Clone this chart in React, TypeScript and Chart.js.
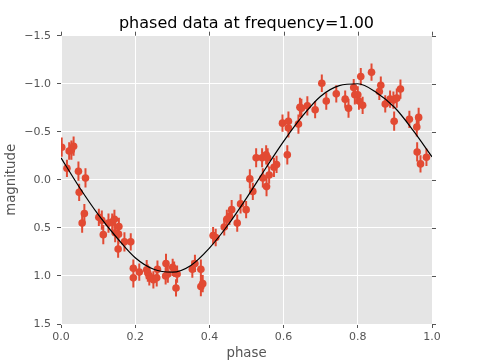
import React, { useEffect, useRef } from "react";
import { Chart, registerables } from "chart.js";

Chart.register(...registerables);

const phase = [
  0.002, 0.016, 0.022, 0.028, 0.034, 0.047, 0.049, 0.057, 0.063, 0.066,
  0.102, 0.110, 0.114, 0.128, 0.138, 0.144, 0.146, 0.156, 0.155, 0.154,
  0.171, 0.188, 0.195, 0.195, 0.211, 0.231, 0.234, 0.238, 0.249, 0.258,
  0.260, 0.283, 0.282, 0.288, 0.301, 0.305, 0.310, 0.313, 0.354, 0.361,
  0.377, 0.377, 0.382, 0.410, 0.417, 0.440, 0.447, 0.454, 0.460, 0.475,
  0.484, 0.499, 0.509, 0.517, 0.526, 0.542, 0.553, 0.557, 0.544, 0.554,
  0.561, 0.574, 0.581, 0.597, 0.610, 0.613, 0.613, 0.640, 0.644, 0.648,
  0.664, 0.685, 0.703, 0.715, 0.742, 0.766, 0.775, 0.789, 0.792, 0.800,
  0.803, 0.808, 0.813, 0.837, 0.858, 0.862, 0.874, 0.887, 0.896, 0.898,
  0.905, 0.915, 0.939, 0.959, 0.964, 0.960, 0.969, 0.985,
];

const magnitude = [
  -0.34, -0.12, -0.30, -0.31, -0.35, -0.09, 0.13, 0.45, 0.35, -0.02,
  0.39, 0.42, 0.57, 0.45, 0.44, 0.41, 0.55, 0.485, 0.565, 0.72,
  0.645, 0.645, 0.92, 1.02, 0.96, 0.935, 0.97, 1.0, 1.04, 1.02,
  0.93, 0.87, 1.0, 0.98, 0.91, 0.93, 1.125, 0.98, 0.93, 0.87,
  0.93, 1.11, 1.08, 0.58, 0.6, 0.49, 0.41, 0.38, 0.31, 0.45,
  0.25, 0.31, -0.01, 0.12, -0.23, -0.23, -0.26, -0.23, -0.02, 0.07,
  -0.05, -0.13, -0.16, -0.59, -0.26, -0.61, -0.54, -0.58, -0.755, -0.745,
  -0.77, -0.73, -1.005, -0.82, -0.895, -0.84, -0.745, -0.96, -0.885, -0.885,
  -0.82, -1.075, -0.775, -1.12, -0.92, -0.985, -0.79, -0.84, -0.83, -0.61,
  -0.85, -0.945, -0.63, -0.55, -0.65, -0.29, -0.166, -0.235,
];

const magError = [
  0.10, 0.09, 0.09, 0.10, 0.10, 0.10, 0.09, 0.10, 0.10, 0.10,
  0.09, 0.10, 0.10, 0.10, 0.09, 0.10, 0.10, 0.09, 0.10, 0.09,
  0.10, 0.09, 0.09, 0.10, 0.09, 0.10, 0.09, 0.10, 0.09, 0.09,
  0.09, 0.10, 0.09, 0.09, 0.09, 0.08, 0.09, 0.09, 0.09, 0.09,
  0.10, 0.10, 0.09, 0.09, 0.09, 0.09, 0.10, 0.09, 0.10, 0.09,
  0.10, 0.09, 0.10, 0.09, 0.10, 0.10, 0.10, 0.10, 0.10, 0.10,
  0.09, 0.10, 0.09, 0.09, 0.10, 0.10, 0.10, 0.10, 0.10, 0.10,
  0.10, 0.09, 0.09, 0.09, 0.09, 0.09, 0.10, 0.09, 0.10, 0.09,
  0.09, 0.09, 0.09, 0.09, 0.09, 0.09, 0.09, 0.09, 0.09, 0.10,
  0.10, 0.10, 0.09, 0.10, 0.10, 0.10, 0.09, 0.09,
];

const fitPhase = [
  0.0, 0.05, 0.1, 0.15, 0.2, 0.25, 0.3, 0.35, 0.4, 0.45, 0.5,
  0.55, 0.6, 0.65, 0.7, 0.75, 0.8, 0.85, 0.9, 0.95, 1.0,
];
const fitMagnitude = [
  -0.23, 0.08, 0.36, 0.6, 0.81, 0.93, 0.96, 0.89, 0.71, 0.47, 0.19,
  -0.11, -0.4, -0.66, -0.87, -0.98, -1.0, -0.91, -0.75, -0.51, -0.24,
];

const xTicks = [0.0, 0.2, 0.4, 0.6, 0.8, 1.0];
const xTickLabels = ["0.0", "0.2", "0.4", "0.6", "0.8", "1.0"];
const yTicks = [-1.5, -1.0, -0.5, 0.0, 0.5, 1.0, 1.5];
const yTickLabels = ["\u22121.5", "\u22121.0", "\u22120.5", "0.0", "0.5", "1.0", "1.5"];

const RED = "#E24A33";
const TICK_GRAY = "#555555";
const FONT = "'DejaVu Sans', sans-serif";

function labelFor(v: number, ticks: number[], labels: string[]) {
  let best = 0;
  for (let i = 1; i < ticks.length; i++) {
    if (Math.abs(ticks[i] - v) < Math.abs(ticks[best] - v)) best = i;
  }
  return labels[best];
}

const bgPlugin = {
  id: "ggBg",
  beforeDraw(chart: any) {
    const { ctx, chartArea } = chart;
    ctx.save();
    ctx.fillStyle = "#E5E5E5";
    ctx.fillRect(chartArea.left, chartArea.top, chartArea.right - chartArea.left, chartArea.bottom - chartArea.top);
    ctx.restore();
  },
};

const errorBarPlugin = {
  id: "errBars",
  beforeDatasetsDraw(chart: any) {
    const { ctx, chartArea } = chart;
    const xs = chart.scales.x;
    const ys = chart.scales.y;
    ctx.save();
    ctx.beginPath();
    ctx.rect(chartArea.left, chartArea.top, chartArea.right - chartArea.left, chartArea.bottom - chartArea.top);
    ctx.clip();
    ctx.strokeStyle = RED;
    ctx.lineWidth = 2;
    ctx.beginPath();
    for (let i = 0; i < phase.length; i++) {
      const px = xs.getPixelForValue(phase[i]);
      const y1 = ys.getPixelForValue(magnitude[i] - magError[i]);
      const y2 = ys.getPixelForValue(magnitude[i] + magError[i]);
      ctx.moveTo(px, y1);
      ctx.lineTo(px, y2);
    }
    ctx.stroke();
    ctx.restore();
  },
};

const outerTicksPlugin = {
  id: "outerTicks",
  afterDraw(chart: any) {
    const { ctx, chartArea } = chart;
    const xs = chart.scales.x;
    const ys = chart.scales.y;
    ctx.save();
    ctx.strokeStyle = TICK_GRAY;
    ctx.lineWidth = 1;
    ctx.beginPath();
    for (const t of xTicks) {
      const px = Math.round(xs.getPixelForValue(t)) + 0.5;
      ctx.moveTo(px, chartArea.top);
      ctx.lineTo(px, chartArea.top - 4);
    }
    for (const t of yTicks) {
      const py = Math.round(ys.getPixelForValue(t)) + 0.5;
      ctx.moveTo(chartArea.right, py);
      ctx.lineTo(chartArea.right + 4, py);
    }
    ctx.stroke();
    ctx.restore();
  },
};

export default function App() {
  const canvasRef = useRef<HTMLCanvasElement | null>(null);

  useEffect(() => {
    document.body.style.margin = "0";
    const canvas = canvasRef.current;
    if (!canvas) return;
    const chart = new Chart(canvas, {
      type: "scatter",
      data: {
        datasets: [
          {
            type: "line",
            label: "fit",
            data: fitPhase.map((p, i) => ({ x: p, y: fitMagnitude[i] })),
            borderColor: "#000000",
            borderWidth: 1.2,
            pointRadius: 0,
            fill: false,
            cubicInterpolationMode: "monotone",
            order: 0,
          } as any,
          {
            type: "scatter",
            label: "data",
            data: phase.map((p, i) => ({ x: p, y: magnitude[i] })),
            backgroundColor: RED,
            borderWidth: 0,
            pointRadius: 3.8,
            order: 1,
          } as any,
        ],
      },
      options: {
        animation: false,
        responsive: false,
        maintainAspectRatio: false,
        layout: { padding: { left: 0, right: 48, top: 0, bottom: 0 } },
        plugins: {
          legend: { display: false },
          tooltip: { enabled: false },
          title: {
            display: true,
            fullSize: false,
            text: "phased data at frequency=1.00",
            color: "#000000",
            font: { family: FONT, size: 16, weight: "normal" },
            padding: { top: 14.5, bottom: 2 },
          },
        },
        scales: {
          x: {
            type: "linear",
            min: 0,
            max: 1,
            afterFit: (s: any) => {
              s.height = 36;
            },
            afterBuildTicks: (s: any) => {
              s.ticks = xTicks.map((v) => ({ value: v }));
            },
            ticks: {
              color: TICK_GRAY,
              font: { family: FONT, size: 11 },
              padding: 3,
              maxRotation: 0,
              autoSkip: false,
              callback: (v: any) => labelFor(Number(v), xTicks, xTickLabels),
            },
            grid: { color: "#FFFFFF", lineWidth: 1, tickLength: 4, tickColor: TICK_GRAY },
            border: { display: false },
            title: {
              display: true,
              text: "phase",
              color: TICK_GRAY,
              font: { family: FONT, size: 13.3, lineHeight: 1.0 },
              padding: { top: 0, bottom: 0 },
            },
          },
          y: {
            type: "linear",
            reverse: true,
            min: -1.5,
            max: 1.5,
            afterFit: (s: any) => {
              s.width = 61;
            },
            afterBuildTicks: (s: any) => {
              s.ticks = yTicks.map((v) => ({ value: v }));
            },
            ticks: {
              color: TICK_GRAY,
              font: { family: FONT, size: 11 },
              padding: 6,
              autoSkip: false,
              callback: (v: any) => labelFor(Number(v), yTicks, yTickLabels),
            },
            grid: { color: "#FFFFFF", lineWidth: 1, tickLength: 4, tickColor: TICK_GRAY },
            border: { display: false },
            title: {
              display: true,
              text: "magnitude",
              color: TICK_GRAY,
              font: { family: FONT, size: 13.3 },
              padding: { top: 4, bottom: 0 },
            },
          },
        },
      },
      plugins: [bgPlugin, errorBarPlugin, outerTicksPlugin],
    });
    return () => chart.destroy();
  }, []);

  return (
    <div style={{ position: "absolute", left: 0, top: 0, width: 480, height: 360 }}>
      <canvas ref={canvasRef} width={480} height={360} />
    </div>
  );
}
